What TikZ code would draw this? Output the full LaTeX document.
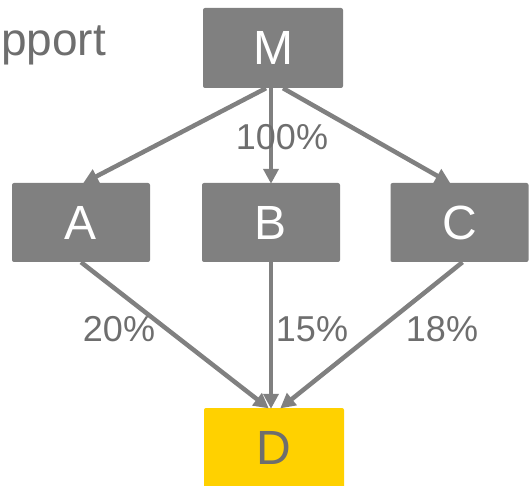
\documentclass[tikz,border=0pt]{standalone}
\usepackage{fontspec}
\setmainfont{Liberation Sans}
\usetikzlibrary{arrows.meta,calc}
\definecolor{boxgray}{HTML}{808080}
\definecolor{txtgray}{HTML}{6E6E6E}
\definecolor{dyellow}{HTML}{FFD100}
\begin{document}
\begin{tikzpicture}[x=1pt,y=-1pt,
  box/.style={fill=boxgray,rounded corners=2pt,minimum width=138pt,minimum height=79pt,inner sep=0pt,text=white,font=\fontsize{48}{48}\selectfont},
  ybox/.style={box,fill=dyellow,text=txtgray},
  conn/.style={draw=boxgray,line width=4.5pt,-{Triangle[length=15pt,width=15pt]},shorten >=-1pt},
  pct/.style={text=txtgray,font=\fontsize{36}{36}\selectfont,inner sep=0pt}]
\useasboundingbox (0,0) rectangle (530,486);
\node[anchor=base west,text=txtgray,font=\fontsize{46}{46}\selectfont,inner sep=0pt] (title) at (1,56) {pport};
\node[box,minimum width=140pt,minimum height=80pt] (M) at (273,48) {M};
\node[box] (A) at (81,222.5) {A};
\node[box] (B) at (271,222.5) {B};
\node[box] (C) at (459.5,222.5) {C};
\node[ybox,minimum width=140pt,minimum height=80pt] (D) at (274,448) {D};
\draw[conn] ([xshift=-7pt]M.south) -- ([xshift=3pt]A.north);
\draw[conn] (B.north |- M.south) -- (B.north);
\draw[conn] ([xshift=10pt]M.south) -- ([xshift=-10pt]C.north);
\draw[conn] (A.south) -- ([xshift=-6pt]D.north);
\draw[conn] ([yshift=4pt]B.south) -- (B.south |- D.north);
\draw[conn] ([xshift=3pt]C.south) -- ([xshift=7pt]D.north);
\node[pct] (l1) at (282,137) {100\%};
\node[pct] (l2) at (119,329) {20\%};
\node[pct] (l3) at (312,329) {15\%};
\node[pct] (l4) at (442,329) {18\%};
\end{tikzpicture}
\end{document}
